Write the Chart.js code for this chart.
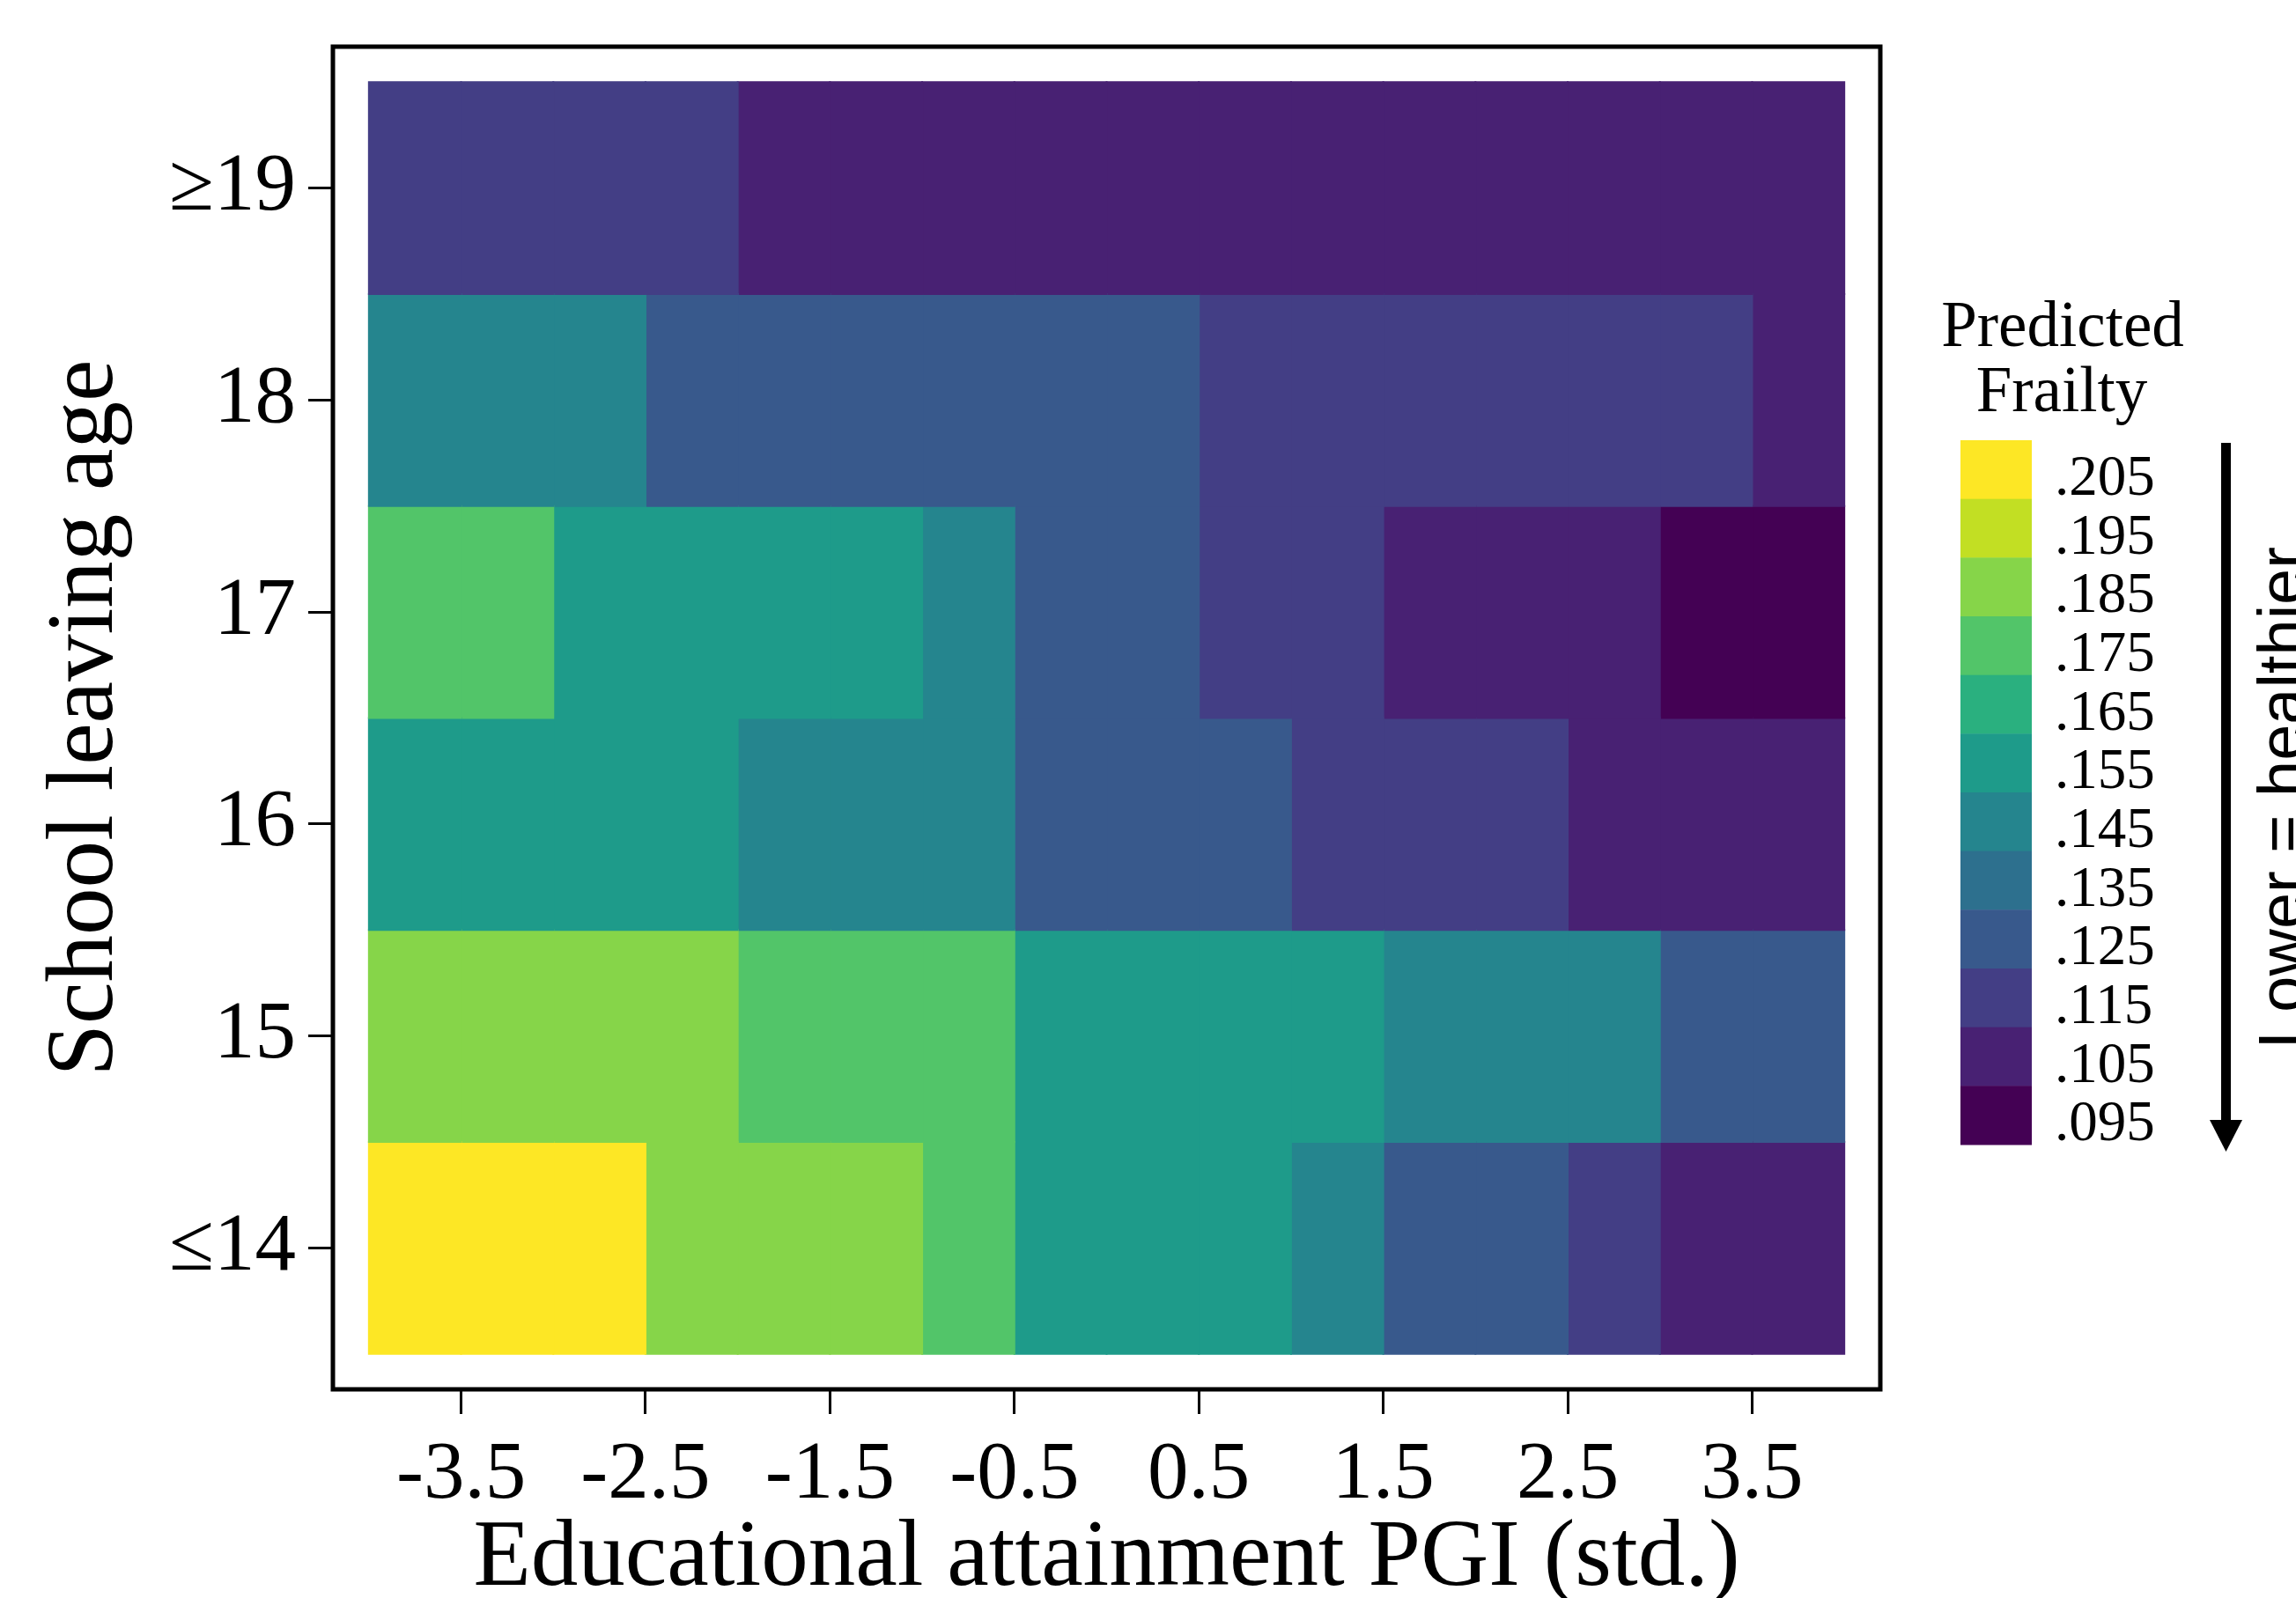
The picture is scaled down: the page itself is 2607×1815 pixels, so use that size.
<!DOCTYPE html>
<html>
<head>
<meta charset="utf-8">
<script src="https://cdn.jsdelivr.net/npm/chart.js@4.4.0/dist/chart.umd.min.js"></script>
<style>
html, body { margin: 0; padding: 0; background: #fff; }
#wrap { width: 2607px; height: 1815px; }
</style>
</head>
<body>
<div id="wrap"><canvas id="heat"></canvas></div>
<script>
// bins of the PGI (std.), .5 wide, from -4 to 4
const pgiEdges = [-4, -3.5, -3, -2.5, -2, -1.5, -1, -0.5, 0, 0.5, 1, 1.5, 2, 2.5, 3, 3.5, 4];
const pgiTicks = [-3.5, -2.5, -1.5, -0.5, 0.5, 1.5, 2.5, 3.5];
const pgiTickLabels = ["-3.5", "-2.5", "-1.5", "-0.5", "0.5", "1.5", "2.5", "3.5"];

const ageValues = [14, 15, 16, 17, 18, 19];
const ageLabels = ["≤14", "15", "16", "17", "18", "≥19"];

// predicted frailty per cell, one array per school leaving age
const frailty14 = [.205, .205, .205, .185, .185, .185, .175, .155, .155, .155, .145, .125, .125, .115, .105, .105];
const frailty15 = [.185, .185, .185, .185, .175, .175, .175, .155, .155, .155, .155, .145, .145, .145, .125, .125];
const frailty16 = [.155, .155, .155, .155, .145, .145, .145, .125, .125, .125, .115, .115, .115, .105, .105, .105];
const frailty17 = [.175, .175, .155, .155, .155, .155, .145, .125, .125, .115, .115, .105, .105, .105, .095, .095];
const frailty18 = [.145, .145, .145, .125, .125, .125, .125, .125, .125, .115, .115, .115, .115, .115, .115, .105];
const frailty19 = [.115, .115, .115, .115, .105, .105, .105, .105, .105, .105, .105, .105, .105, .105, .105, .105];
const frailtyRows = [frailty14, frailty15, frailty16, frailty17, frailty18, frailty19];

// colour legend
const levelValues = [.205, .195, .185, .175, .165, .155, .145, .135, .125, .115, .105, .095];
const levelLabels = [".205", ".195", ".185", ".175", ".165", ".155", ".145", ".135", ".125", ".115", ".105", ".095"];
const levelColors = ["#FDE725", "#C2DF23", "#86D549", "#52C569", "#2AB07F", "#1E9B8A",
                     "#25858E", "#2D708E", "#38598C", "#433E85", "#482173", "#440154"];

const serif = "'Liberation Serif', 'Times New Roman', serif";

function colorFor(v) {
    let best = 0;
    for (let i = 1; i < levelValues.length; i++) {
        if (Math.abs(levelValues[i] - v) < Math.abs(levelValues[best] - v)) best = i;
    }
    return levelColors[best];
}

const datasets = [];
for (let c = 0; c < pgiEdges.length - 1; c++) {
    datasets.push({
        data: ageValues.map(a => ({ x: [pgiEdges[c], pgiEdges[c + 1]], y: a })),
        backgroundColor: frailtyRows.map(row => colorFor(row[c])),
        borderWidth: 0,
        inflateAmount: 1,
        grouped: false,
        barPercentage: 1,
        categoryPercentage: 1
    });
}

// black box round the plot area
const frame = {
    id: "frame",
    afterDatasetsDraw(chart) {
        const { ctx, chartArea: a } = chart;
        ctx.save();
        ctx.strokeStyle = "#000";
        ctx.lineWidth = 5;
        ctx.strokeRect(a.left, a.top, a.right - a.left, a.bottom - a.top);
        ctx.restore();
    }
};

// colour key, arrow and note on the right
const key = {
    id: "key",
    afterDraw(chart) {
        const ctx = chart.ctx;
        ctx.save();
        ctx.fillStyle = "#000";
        ctx.font = "73px " + serif;
        ctx.textAlign = "center";
        ctx.textBaseline = "alphabetic";
        ctx.fillText("Predicted", 2342, 393);
        ctx.fillText("Frailty", 2341, 467);

        const top = 500, h = 800 / levelColors.length;
        ctx.font = "65px " + serif;
        ctx.textAlign = "left";
        for (let i = 0; i < levelColors.length; i++) {
            ctx.fillStyle = levelColors[i];
            ctx.fillRect(2226, top + i * h, 81, h + 0.5);
            ctx.fillStyle = "#000";
            ctx.fillText(levelLabels[i], 2333, top + i * h + 62);
        }

        ctx.fillStyle = "#000";
        ctx.fillRect(2522, 503, 11, 775);
        ctx.beginPath();
        ctx.moveTo(2509, 1272);
        ctx.lineTo(2546, 1272);
        ctx.lineTo(2527.5, 1308);
        ctx.closePath();
        ctx.fill();

        ctx.translate(2616, 906);
        ctx.rotate(-Math.PI / 2);
        ctx.font = "74px 'Liberation Sans', Arial, sans-serif";
        ctx.textAlign = "center";
        ctx.fillText("Lower = healthier", 0, 0);
        ctx.restore();
    }
};

new Chart(document.getElementById("heat"), {
    type: "bar",
    data: { datasets: datasets },
    options: {
        indexAxis: "y",
        responsive: true,
        maintainAspectRatio: false,
        animation: false,
        layout: { padding: { top: 53, right: 472, bottom: 0, left: 0 } },
        plugins: { legend: { display: false }, tooltip: { enabled: false } },
        scales: {
            x: {
                type: "linear",
                position: "bottom",
                min: -4.195,
                max: 4.195,
                afterBuildTicks: s => { s.ticks = pgiTicks.map(v => ({ value: v })); },
                afterFit: s => { s.height = 237; },
                grid: { display: true, drawOnChartArea: false, drawTicks: true, tickLength: 28, color: "#000", lineWidth: 3 },
                border: { display: false },
                ticks: {
                    color: "#000",
                    font: { family: serif, size: 93 },
                    padding: 15,
                    maxRotation: 0,
                    callback: v => pgiTickLabels[pgiTicks.indexOf(v)]
                },
                title: {
                    display: true,
                    text: "Educational attainment PGI (std.)",
                    color: "#000",
                    font: { family: serif, size: 107, lineHeight: 0.8 },
                    padding: { top: 0, bottom: 0 }
                }
            },
            y: {
                type: "linear",
                position: "left",
                min: 13.333,
                max: 19.667,
                offset: false,
                afterBuildTicks: s => { s.ticks = ageValues.map(v => ({ value: v })); },
                afterFit: s => { s.width = 378; },
                grid: { display: true, offset: false, drawOnChartArea: false, drawTicks: true, tickLength: 28, color: "#000", lineWidth: 3 },
                border: { display: false },
                ticks: {
                    color: "#000",
                    font: { family: serif, size: 93, lineHeight: 0.8 },
                    padding: 14,
                    callback: v => ageLabels[ageValues.indexOf(v)]
                },
                title: {
                    display: true,
                    text: "School leaving age",
                    color: "#000",
                    font: { family: serif, size: 107, lineHeight: 0.8 },
                    padding: { top: 56, bottom: 0 }
                }
            }
        }
    },
    plugins: [frame, key]
});
</script>
</body>
</html>
